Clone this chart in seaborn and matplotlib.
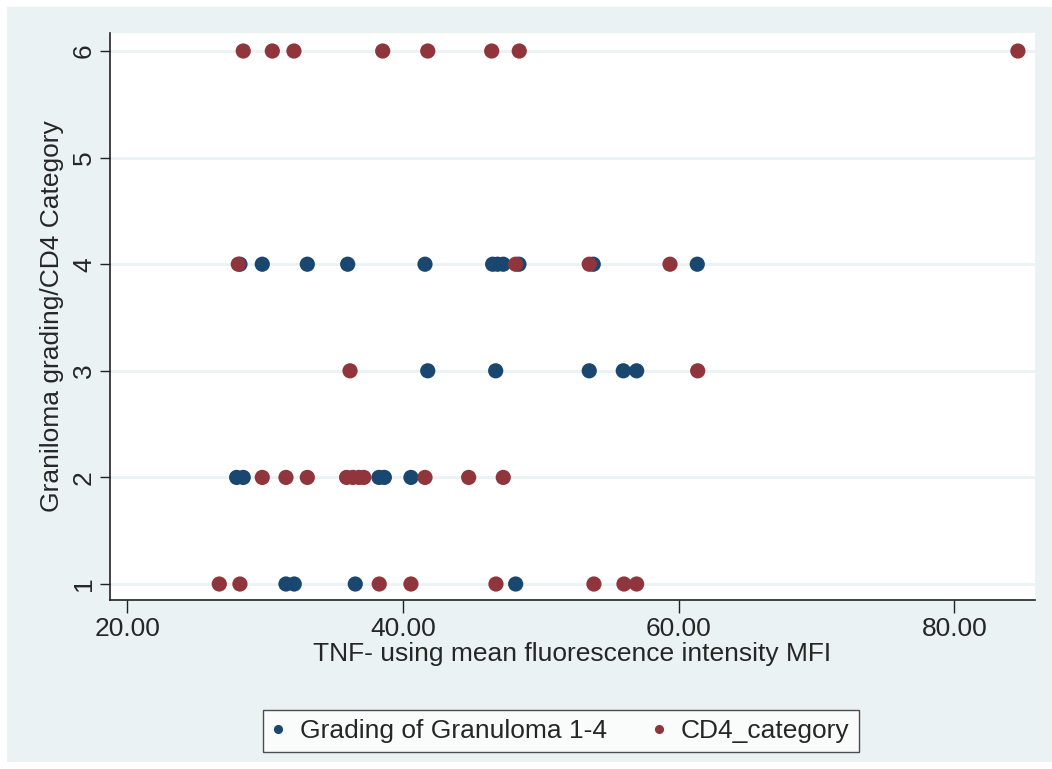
import matplotlib
matplotlib.use("Agg")
import matplotlib.pyplot as plt
import numpy as np
import pandas as pd
import seaborn as sns
from matplotlib.patches import Rectangle
from matplotlib.ticker import FormatStrFormatter

# Grading of Granuloma 1-4 (blue)
grading_x = [28.16, 29.78, 33.05, 35.98, 41.59, 46.50, 46.86, 47.27, 48.41, 53.80, 61.35,
             41.79, 46.72, 53.51, 55.98, 56.95,
             27.92, 28.40, 38.25, 38.64, 40.57,
             31.50, 32.10, 36.53, 48.17]
grading_y = [4] * 11 + [3] * 5 + [2] * 5 + [1] * 4

# CD4_category (red)
cd4_x = [28.40, 30.51, 32.08, 38.52, 41.79, 46.43, 48.43, 84.62,
         28.04, 48.17, 53.51, 59.37,
         36.15, 61.38,
         29.78, 31.50, 33.05, 35.90, 36.35, 36.80, 37.15, 41.59, 44.76, 47.27,
         26.66, 28.16, 38.27, 40.57, 46.74, 53.85, 56.03, 56.95]
cd4_y = [6] * 8 + [4] * 4 + [3] * 2 + [2] * 10 + [1] * 8

series_names = ["Grading of Granuloma 1-4", "CD4_category"]
x_ticks = [20, 40, 60, 80]
y_ticks = [1, 2, 3, 4, 5, 6]

df = pd.DataFrame({
    "tnf": grading_x + cd4_x,
    "value": grading_y + cd4_y,
    "series": [series_names[0]] * len(grading_x) + [series_names[1]] * len(cd4_x),
})

bg = "#eaf2f3"
sns.set_style("white")
plt.rcParams["font.family"] = ["Liberation Sans", "DejaVu Sans"]
fs = 19

fig = plt.figure(figsize=(10.52, 7.69), dpi=100, facecolor="white")
fig.patches.append(Rectangle((7 / 1052, 7 / 769), 1, 1 - 14 / 769,
                             transform=fig.transFigure, facecolor=bg,
                             edgecolor="none", zorder=-10))
ax = fig.add_axes([110 / 1052, 1 - 600 / 769, 925 / 1052, 567 / 769])
ax.set_facecolor("white")

sns.scatterplot(data=df, x="tnf", y="value", hue="series", hue_order=series_names,
                palette=["#1a476f", "#90353b"], s=120, linewidth=0, alpha=1,
                ax=ax, zorder=3)

ax.set_xlim(18.73, 85.86)
ax.set_ylim(0.85, 6.169)
ax.set_xticks(x_ticks)
ax.set_yticks(y_ticks)
ax.xaxis.set_major_formatter(FormatStrFormatter("%.2f"))
ax.grid(axis="y", color=bg, linewidth=2, zorder=0)
ax.grid(axis="x", visible=False)

for side in ["top", "right"]:
    ax.spines[side].set_visible(False)
for side in ["left", "bottom"]:
    ax.spines[side].set_color("#222222")
    ax.spines[side].set_linewidth(1.2)

ax.tick_params(axis="x", direction="out", length=9, width=1, color="#222222",
               labelsize=fs, pad=3, bottom=True)
ax.tick_params(axis="y", direction="out", length=7, width=1, color="#222222",
               labelsize=fs, pad=3, left=True)
for lab in ax.get_yticklabels():
    lab.set_rotation(90)
    lab.set_va("center")

ax.set_xlabel("TNF- using mean fluorescence intensity MFI", fontsize=fs, labelpad=1)
ax.set_ylabel("Graniloma grading/CD4 Category", fontsize=fs, labelpad=6)

handles, labels = ax.get_legend_handles_labels()
leg = ax.legend(handles, labels, loc="center", bbox_to_anchor=(0.4876, -0.231),
                ncol=2, fontsize=fs, frameon=True, fancybox=False,
                edgecolor="#222222", markerscale=0.6, handletextpad=0.65,
                columnspacing=1.75, borderpad=0.35, handlelength=0.4)
leg.get_frame().set_linewidth(1.0)
leg.get_frame().set_facecolor("white")

fig.savefig("out.png", dpi=100, facecolor=fig.get_facecolor())
